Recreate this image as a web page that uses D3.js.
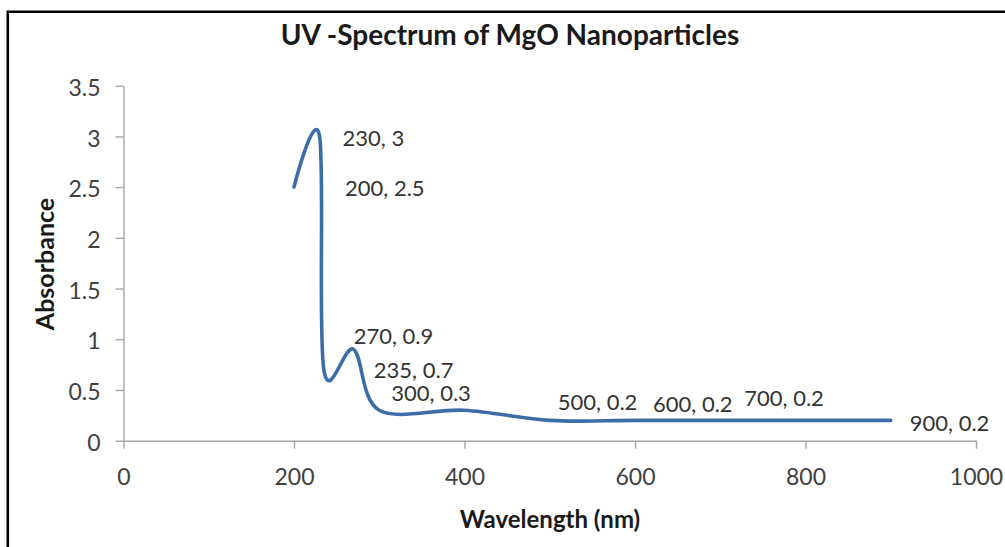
<!DOCTYPE html>
<html>
<head>
<meta charset="utf-8">
<script src="https://cdn.jsdelivr.net/npm/d3@7"></script>
<style>
  html, body { margin: 0; padding: 0; background: #fff; }
  svg { display: block; }
</style>
</head>
<body>
<svg id="chart" width="1005" height="547"></svg>
<script>
// ---- data ----
const wavelengths = [200, 230, 235, 270, 300, 400, 500, 600, 700, 900];
const absorbance  = [2.5, 3.0, 0.7, 0.9, 0.3, 0.3, 0.2, 0.2, 0.2, 0.2];
const labelTexts  = ["230, 3", "200, 2.5", "270, 0.9", "235, 0.7", "300, 0.3", "500, 0.2", "600, 0.2", "700, 0.2", "900, 0.2"];
const labelAnchorX = [230, 200, 270, 235, 300, 500, 600, 700, 900];
const labelAnchorY = [3, 2.5, 0.9, 0.7, 0.3, 0.2, 0.2, 0.2, 0.2];
const xTicks = [0, 200, 400, 600, 800, 1000];
const yTicks = [0, 0.5, 1, 1.5, 2, 2.5, 3, 3.5];
const titleText = "UV -Spectrum of MgO Nanoparticles";
const xTitle = "Wavelength (nm)";
const yTitle = "Absorbance";

// ---- layout (pixel offsets for the hand-placed data labels) ----
const labelDX = [23, 51, 0, 50, 12, 8, 18, 24, 19];
const labelDY = [10, 9, -5, 8, -9, -10, -8, -14, 11];

const svg = d3.select("#chart");
const font = "Lato, 'Open Sans', sans-serif";

const x = d3.scaleLinear().domain([0, 1000]).range([123.5, 976]);
const y = d3.scaleLinear().domain([0, 3.5]).range([440.7, 85.7]);

// border
svg.append("path")
  .attr("d", "M7.8,547 L7.8,11.7 L1005,11.7")
  .attr("fill", "none").attr("stroke", "#000").attr("stroke-width", 2.6);

// title
svg.append("text")
  .attr("x", 510).attr("y", 45)
  .attr("text-anchor", "middle")
  .attr("font-family", font).attr("font-weight", "bold").attr("font-size", 28)
  .attr("fill", "#1a1a1a")
  .text(titleText);

// axes
const axisColor = "#a6a6a6";
const gx = svg.append("g").attr("transform", `translate(0,${y(0)})`)
  .call(d3.axisBottom(x).tickValues(xTicks).tickSize(8).tickSizeOuter(0).tickPadding(20).tickFormat(d3.format("d")));
const gy = svg.append("g").attr("transform", `translate(${x(0)},0)`)
  .call(d3.axisLeft(y).tickValues(yTicks).tickSize(8).tickSizeOuter(0).tickPadding(15).tickFormat(d => String(d)));

[gx, gy].forEach(g => {
  g.select(".domain").attr("stroke", axisColor).attr("stroke-width", 1.4);
  g.selectAll(".tick line").attr("stroke", axisColor).attr("stroke-width", 1.4);
  g.selectAll(".tick text").attr("fill", "#404040").attr("font-family", font).attr("font-size", 23);
});
gy.selectAll(".tick text").attr("dy", "0.42em");

// axis titles
svg.append("text")
  .attr("x", 550).attr("y", 528)
  .attr("text-anchor", "middle")
  .attr("font-family", font).attr("font-weight", "bold").attr("font-size", 24)
  .attr("fill", "#1a1a1a")
  .text(xTitle);
svg.append("text")
  .attr("transform", "translate(54,264) rotate(-90)")
  .attr("text-anchor", "middle")
  .attr("font-family", font).attr("font-weight", "bold").attr("font-size", 25)
  .attr("fill", "#1a1a1a")
  .text(yTitle);

// line
const pts = wavelengths.map((w, i) => [w, absorbance[i]]);
const line = d3.line().x(d => x(d[0])).y(d => y(d[1])).curve(d3.curveCardinal.tension(0));
svg.append("path")
  .datum(pts)
  .attr("d", line)
  .attr("fill", "none")
  .attr("stroke", "#3b6ea9")
  .attr("stroke-width", 3.6)
  .attr("stroke-linejoin", "round")
  .attr("stroke-linecap", "round");

// data labels
svg.append("g").selectAll("text")
  .data(labelTexts)
  .join("text")
  .attr("x", (d, i) => x(labelAnchorX[i]) + labelDX[i])
  .attr("y", (d, i) => y(labelAnchorY[i]) + labelDY[i])
  .attr("font-family", font).attr("font-size", 22)
  .attr("fill", "#333")
  .text(d => d);
</script>
</body>
</html>
